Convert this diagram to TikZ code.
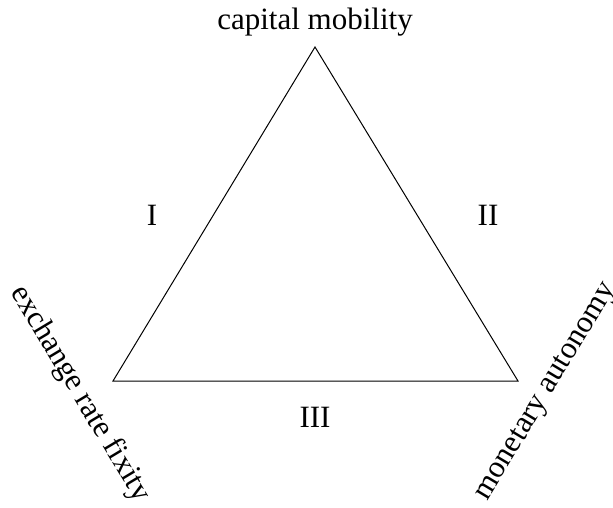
\documentclass[tikz,border=0pt]{standalone}
\usepackage{fontspec}
\setmainfont{Liberation Serif}
\usetikzlibrary{positioning}

\begin{document}
\begin{tikzpicture}[
    x=1pt, y=-1pt,
    corner/.style={
        font=\fontsize{31}{37}\selectfont,
        inner sep=0pt
    },
    region/.style={
        font=\fontsize{31}{37}\selectfont,
        inner sep=0pt
    }
]
    \useasboundingbox (0,0) rectangle (613,507);

    % Vertices
    \coordinate (top) at (315,47);
    \coordinate (left) at (113,381);
    \coordinate (right) at (518,381);
    \draw[line width=1pt] (top) -- (left) -- (right) -- cycle;

    % Corner labels
    \node[corner] (mobility) at (315,22) {capital mobility};
    \node[corner, rotate=-59] (fixity) at (80,394) {exchange rate fixity};
    \node[corner, rotate=59] (autonomy) at (547,392) {monetary autonomy};

    % Regions
    \node[region] (one) at (152,215) {I};
    \node[region] (two) at (488,215) {II};
    \node[region] (three) at (315,417) {III};
\end{tikzpicture}
\end{document}
